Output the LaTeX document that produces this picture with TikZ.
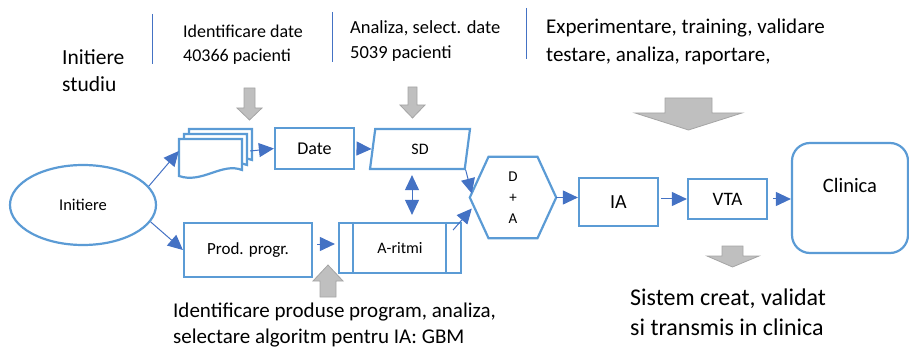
\documentclass[tikz,border=0pt]{standalone}
\usepackage{fontspec}
\setmainfont{Carlito}
\usetikzlibrary{arrows.meta,shapes.geometric,positioning,calc}
\definecolor{boxblue}{RGB}{91,155,213}
\definecolor{lineblue}{RGB}{68,114,196}
\definecolor{arrgray}{RGB}{191,191,191}
\definecolor{arrgrayline}{RGB}{165,165,165}

\begin{document}
\begin{tikzpicture}[x=1pt, y=-1pt, >={Triangle[length=15pt,width=14pt]},
    box/.style={draw=boxblue, line width=2.2pt, fill=white, inner sep=0pt},
    conn/.style={draw=lineblue, line width=1pt, ->},
    grayarr/.style={fill=arrgray, draw=arrgrayline, line width=0.8pt},
    sep/.style={draw=lineblue, line width=0.6pt},
    txt/.style={inner sep=0pt, anchor=base west, align=left}]
\useasboundingbox (0,0) rectangle (909,347);

\node[txt, font=\fontsize{21.5}{27}\selectfont] (Studiu) at (62,92) {Initiere\\studiu};
\node[txt, font=\fontsize{18}{24}\selectfont] (IdDate) at (183,62) {Identificare date\\40366 pacienti};
\node[txt, font=\fontsize{18.5}{25}\selectfont] (SelDate) at (350,59) {Analiza, select. date\\5039 pacienti};
\node[txt, font=\fontsize{21}{28}\selectfont] (Exper) at (546,61.5) {Experimentare, training, validare\\testare, analiza, raportare,};
\node[txt, font=\fontsize{21}{26}\selectfont] (IdProd) at (173,343) {Identificare produse program, analiza,\\selectare algoritm pentru IA: GBM};
\node[txt, font=\fontsize{24}{30}\selectfont] (Sistem) at (630,335) {Sistem creat, validat\\si transmis in clinica};

\draw[sep] (152,14) -- (152,64);
\draw[sep] (332,12) -- (332,62);
\draw[sep] (526,8) -- (526,59);

\draw[grayarr] (244,88) -- (255,88) -- (255,108) -- (262,108) -- (249.5,120) -- (237,108) -- (244,108) -- cycle;
\draw[grayarr] (408,87) -- (417,87) -- (417,105) -- (425,105) -- (412.5,118) -- (400,105) -- (408,105) -- cycle;
\draw[grayarr] (665,98) -- (712,98) -- (712,113) -- (742,113) -- (688.5,130) -- (635,113) -- (665,113) -- cycle;
\draw[grayarr] (722,246) -- (743,246) -- (743,256) -- (759,256) -- (732.5,267) -- (707,256) -- (722,256) -- cycle;
\draw[grayarr] (320,297) -- (336,297) -- (336,281) -- (343,281) -- (328,265) -- (313,281) -- (320,281) -- cycle;

\node[box, ellipse, minimum width=146, minimum height=80, font=\fontsize{16.5}{20}\selectfont] (Init) at (83,205) {Initiere};

\foreach \o in {10,5,0}
  \draw[box] (179+\o,139-\o) -- (242+\o,139-\o) -- (242+\o,170-\o) .. controls (222+\o,162-\o) and (202+\o,184-\o) .. (179+\o,176-\o) -- cycle;
\node[minimum width=71, minimum height=48, inner sep=0pt] (Docs) at (214.5,151) {};

\node[box, minimum width=79, minimum height=41, font=\fontsize{18}{22}\selectfont] (Date) at (314.5,148.5) {Date};
\node[box, trapezium, trapezium left angle=63.4, trapezium right angle=116.6, trapezium stretches body,
      minimum width=100, minimum height=40, font=\fontsize{16}{20}\selectfont] (SD) at (420,149) {SD};
\node[minimum width=86, minimum height=81, inner sep=0pt] (DA) at (513,197.5) {};
\draw[box, fill=none] (DA.west) -- ([xshift=-24.5pt]DA.north) -- ([xshift=24.5pt]DA.north) -- (DA.east)
      -- ([xshift=24.5pt]DA.south) -- ([xshift=-24.5pt]DA.south) -- cycle;
\node[align=center, inner sep=0pt, font=\fontsize{15}{21}\selectfont] (DAtext) at (DA) {D\\+\\A};

\node[box, minimum width=128, minimum height=54, font=\fontsize{17}{20}\selectfont] (Prod) at (248,250) {Prod. progr.};
\node[box, minimum width=122, minimum height=50, font=\fontsize{16}{20}\selectfont] (Aritmi) at (400,248) {A-ritmi};
\draw[box] ([xshift=15pt]Aritmi.north west) -- ([xshift=15pt]Aritmi.south west);
\draw[box] ([xshift=-16pt]Aritmi.north east) -- ([xshift=-16pt]Aritmi.south east);

\node[box, minimum width=79, minimum height=48, font=\fontsize{20}{24}\selectfont] (IA) at (618.5,202) {IA};
\node[box, minimum width=79, minimum height=40, font=\fontsize{19}{24}\selectfont] (VTA) at (727.5,199) {VTA};
\node[box, rounded corners=18pt, minimum width=116, minimum height=110, align=center,
      font=\fontsize{20.5}{26}\selectfont] (Clin) at (850,198) {Clinica\\\mbox{}};

\draw[conn] (Init.16) -- (Docs.west);
\draw[conn] (Init.-14) -- (Prod.west);
\draw[conn] (Docs.east) -- (Date.west);
\draw[conn, shorten <=3pt] (Date.east) -- (SD.west);
\draw[conn, <->, shorten <=5pt, shorten >=7pt] ([xshift=-8pt]SD.south) -- ([xshift=-8pt]SD.south |- Aritmi.north);
\draw[conn] (SD.bottom right corner) -- ([shift={(2,-4)}]DA.west);
\draw[conn] ([shift={(-9,-18)}]Aritmi.east) -- ([shift={(2,11)}]DA.west);
\draw[conn, shorten <=4pt, shorten >=3pt] ([yshift=6pt]Prod.east) -- ([yshift=4pt]Aritmi.west);
\draw[conn] (DA.east) -- (DA.east -| IA.west);
\draw[conn, shorten <=2pt] (IA.east |- VTA.west) -- (VTA.west);
\draw[conn, shorten <=5pt] (VTA.east) -- (VTA.east -| Clin.west);
\end{tikzpicture}
\end{document}
